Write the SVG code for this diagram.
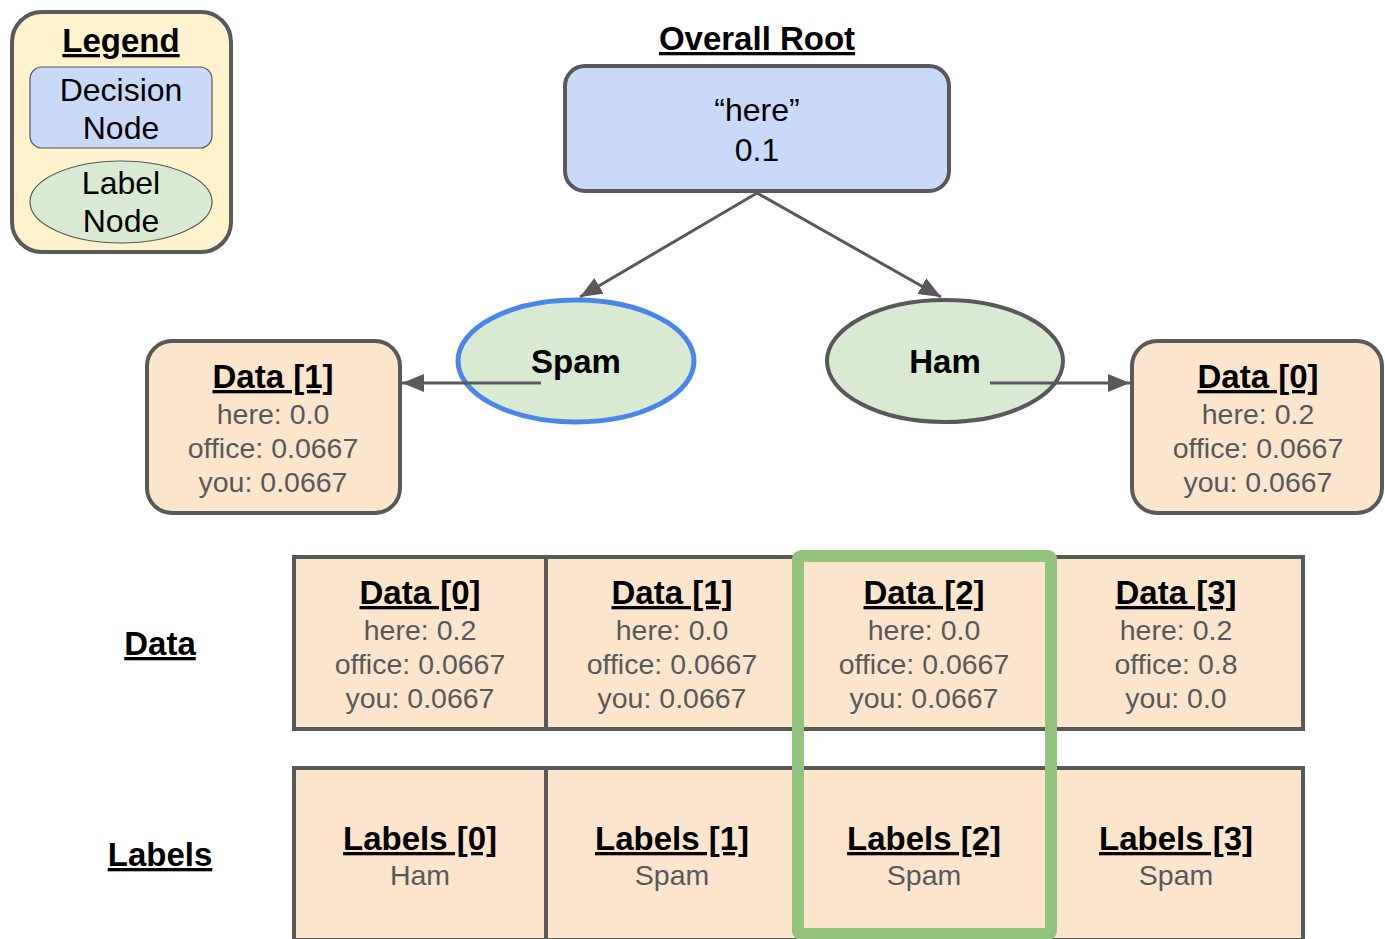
<svg xmlns="http://www.w3.org/2000/svg" width="1385" height="939" viewBox="0 0 1385 939">
<style>
text{font-family:"Liberation Sans",Arial,sans-serif;text-anchor:middle}
.b{font-weight:bold;font-size:33px;fill:#000}
.u{text-decoration:underline}
.r{font-size:32px;fill:#000}
.g{font-size:28.5px;fill:#595959}
.box{fill:#fce5cd;stroke:#595959;stroke-width:4}
.cell{fill:#fce5cd;stroke:#595959;stroke-width:4}
.con{stroke:#595959;stroke-width:3;fill:none}
</style>
<defs>
<marker id="ah" markerUnits="userSpaceOnUse" markerWidth="24" markerHeight="20" refX="22" refY="9" orient="auto">
<path d="M0,0 L22,9 L0,18 Z" fill="#595959"/>
</marker>
</defs>
<g id="legend">
<rect x="12" y="12" width="219" height="240" rx="30" fill="#fff2cc" stroke="#595959" stroke-width="4"/>
<text class="b u" x="121" y="52">Legend</text>
<rect x="30" y="67" width="182" height="81" rx="12" fill="#c9daf8" stroke="#595959" stroke-width="1.2"/>
<text class="r" x="121" y="101">Decision</text>
<text class="r" x="121" y="139">Node</text>
<ellipse cx="121" cy="202" rx="91" ry="41" fill="#d9ead3" stroke="#595959" stroke-width="1.2"/>
<text class="r" x="121" y="194">Label</text>
<text class="r" x="121" y="232">Node</text>
</g>
<g id="root">
<text class="b u" x="757" y="50">Overall Root</text>
<rect x="565" y="66" width="384" height="125" rx="20" fill="#c9daf8" stroke="#595959" stroke-width="4"/>
<text class="r" x="757" y="121">“here”</text>
<text class="r" x="757" y="161">0.1</text>
</g>
<g id="spam">
<ellipse cx="576" cy="361" rx="118" ry="61" fill="#d9ead3" stroke="#4a86e8" stroke-width="5"/>
<text class="b" x="576" y="373">Spam</text>
</g>
<g id="ham">
<ellipse cx="945" cy="361" rx="118" ry="61" fill="#d9ead3" stroke="#595959" stroke-width="4"/>
<text class="b" x="945" y="373">Ham</text>
</g>
<g id="spam-data">
<rect class="box" x="147" y="341" width="253" height="172" rx="25"/>
<text class="b u" x="273" y="388">Data [1]</text>
<text class="g" x="273" y="424">here: 0.0</text>
<text class="g" x="273" y="458">office: 0.0667</text>
<text class="g" x="273" y="492">you: 0.0667</text>
</g>
<g id="ham-data">
<rect class="box" x="1132" y="341" width="250" height="172" rx="25"/>
<text class="b u" x="1258" y="388">Data [0]</text>
<text class="g" x="1258" y="424">here: 0.2</text>
<text class="g" x="1258" y="458">office: 0.0667</text>
<text class="g" x="1258" y="492">you: 0.0667</text>
</g>
<g id="row-labels">
<text class="b u" x="160" y="655">Data</text>
<text class="b u" x="160" y="866">Labels</text>
</g>
<g id="data-table">
<rect class="cell" x="294" y="557" width="252" height="172"/>
<rect class="cell" x="546" y="557" width="252" height="172"/>
<rect class="cell" x="798" y="557" width="253" height="172"/>
<rect class="cell" x="1051" y="557" width="252" height="172"/>
<text class="b u" x="420" y="604">Data [0]</text>
<text class="g" x="420" y="640">here: 0.2</text>
<text class="g" x="420" y="674">office: 0.0667</text>
<text class="g" x="420" y="708">you: 0.0667</text>
<text class="b u" x="672" y="604">Data [1]</text>
<text class="g" x="672" y="640">here: 0.0</text>
<text class="g" x="672" y="674">office: 0.0667</text>
<text class="g" x="672" y="708">you: 0.0667</text>
<text class="b u" x="924" y="604">Data [2]</text>
<text class="g" x="924" y="640">here: 0.0</text>
<text class="g" x="924" y="674">office: 0.0667</text>
<text class="g" x="924" y="708">you: 0.0667</text>
<text class="b u" x="1176" y="604">Data [3]</text>
<text class="g" x="1176" y="640">here: 0.2</text>
<text class="g" x="1176" y="674">office: 0.8</text>
<text class="g" x="1176" y="708">you: 0.0</text>
</g>
<g id="labels-table">
<rect class="cell" x="294" y="768" width="252" height="172"/>
<rect class="cell" x="546" y="768" width="252" height="172"/>
<rect class="cell" x="798" y="768" width="253" height="172"/>
<rect class="cell" x="1051" y="768" width="252" height="172"/>
<text class="b u" x="420" y="850">Labels [0]</text>
<text class="g" x="420" y="885">Ham</text>
<text class="b u" x="672" y="850">Labels [1]</text>
<text class="g" x="672" y="885">Spam</text>
<text class="b u" x="924" y="850">Labels [2]</text>
<text class="g" x="924" y="885">Spam</text>
<text class="b u" x="1176" y="850">Labels [3]</text>
<text class="g" x="1176" y="885">Spam</text>
</g>
<g id="highlight">
<rect x="798" y="556" width="253" height="378" rx="3" fill="none" stroke="#93c47d" stroke-width="12"/>
</g>
<g id="connectors">
<line class="con" x1="757" y1="193" x2="580" y2="297" marker-end="url(#ah)"/>
<line class="con" x1="757" y1="193" x2="941" y2="297" marker-end="url(#ah)"/>
<line class="con" x1="541" y1="383" x2="402" y2="383" marker-end="url(#ah)"/>
<line class="con" x1="990" y1="383" x2="1130" y2="383" marker-end="url(#ah)"/>
</g>
</svg>
